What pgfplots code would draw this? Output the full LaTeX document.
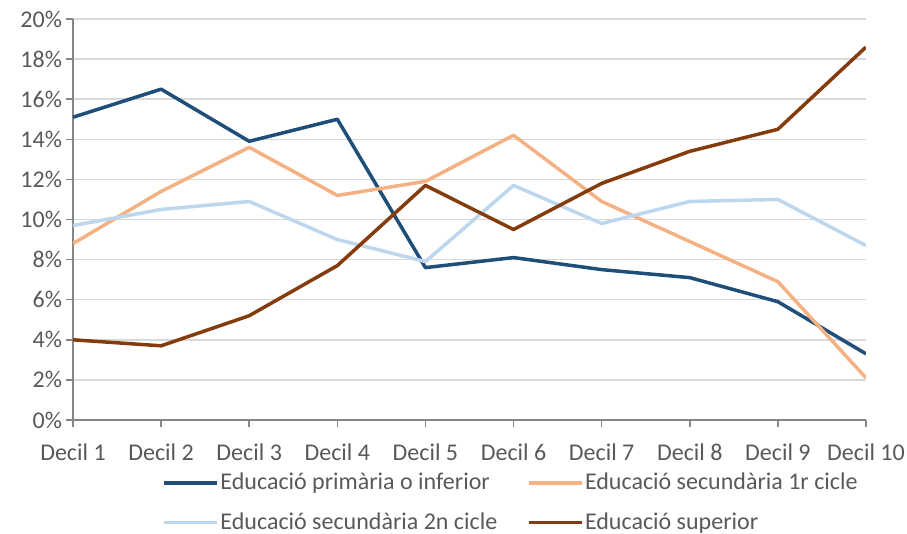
\documentclass[border=0pt]{standalone}
\usepackage{fontspec}
\setmainfont{Carlito}
\usepackage{pgfplots}
\pgfplotsset{compat=1.18}
\definecolor{cprim}{HTML}{1F4E79}
\definecolor{csec1}{HTML}{F4B183}
\definecolor{csec2}{HTML}{BDD7EE}
\definecolor{csup}{HTML}{843C0C}
\definecolor{cgrid}{HTML}{D9D9D9}
\definecolor{caxis}{HTML}{868686}
\definecolor{ctext}{HTML}{595959}
\begin{document}
\begin{tikzpicture}
\begin{axis}[
  at={(0,0)}, anchor=south west,
  scale only axis,
  width=396.5pt, height=200.5pt,
  xmin=1, xmax=10, ymin=0, ymax=20,
  xtick={1,...,10},
  xticklabels={Decil 1,Decil 2,Decil 3,Decil 4,Decil 5,Decil 6,Decil 7,Decil 8,Decil 9,Decil 10},
  ytick={0,2,...,20},
  yticklabel={\pgfmathprintnumber{\tick}\%},
  /pgf/number format/assume math mode=true,
  ymajorgrids,
  grid style={cgrid, line width=0.75pt},
  axis x line*=bottom, axis y line*=left,
  axis line style={caxis, line width=0.75pt},
  tick style={caxis, line width=0.75pt},
  tick align=outside,
  major tick length=3.5pt,
  xtick pos=bottom, ytick pos=left,
  ticklabel style={text=ctext, font=\fontsize{12}{14}\selectfont},
  xticklabel style={yshift=-5pt},
  yticklabel style={xshift=1.5pt},
  legend columns=2,
  legend cell align=left,
  legend style={
    at={(44.5pt,-25.5pt)}, anchor=north west,
    draw=none, fill=none, inner sep=0pt,
    font=\fontsize{12}{14}\selectfont, text=ctext,
    /tikz/every even column/.style={column sep=14pt},
    row sep=8.5pt,
    nodes={inner sep=0.8pt},
  },
  legend image code/.code={\draw[#1, line width=1.75pt] (0pt,0pt) -- (26.5pt,0pt);},
  every axis plot/.append style={line width=1.75pt, line join=round},
]
\addplot[cprim] coordinates {(1,15.1) (2,16.5) (3,13.9) (4,15.0) (5,7.6) (6,8.1) (7,7.5) (8,7.1) (9,5.9) (10,3.3)};
\addlegendentry{Educació primària o inferior}
\addplot[csec1] coordinates {(1,8.8) (2,11.4) (3,13.6) (4,11.2) (5,11.9) (6,14.2) (7,10.9) (8,8.9) (9,6.9) (10,2.1)};
\addlegendentry{Educació secundària 1r cicle}
\addplot[csec2] coordinates {(1,9.7) (2,10.5) (3,10.9) (4,9.0) (5,7.9) (6,11.7) (7,9.8) (8,10.9) (9,11.0) (10,8.7)};
\addlegendentry{Educació secundària 2n cicle}
\addplot[csup] coordinates {(1,4.0) (2,3.7) (3,5.2) (4,7.7) (5,11.7) (6,9.5) (7,11.8) (8,13.4) (9,14.5) (10,18.6)};
\addlegendentry{Educació superior}
\end{axis}
\pgfresetboundingbox
\useasboundingbox (-36.5pt,-57pt) rectangle (417pt,210pt);
\end{tikzpicture}
\end{document}
